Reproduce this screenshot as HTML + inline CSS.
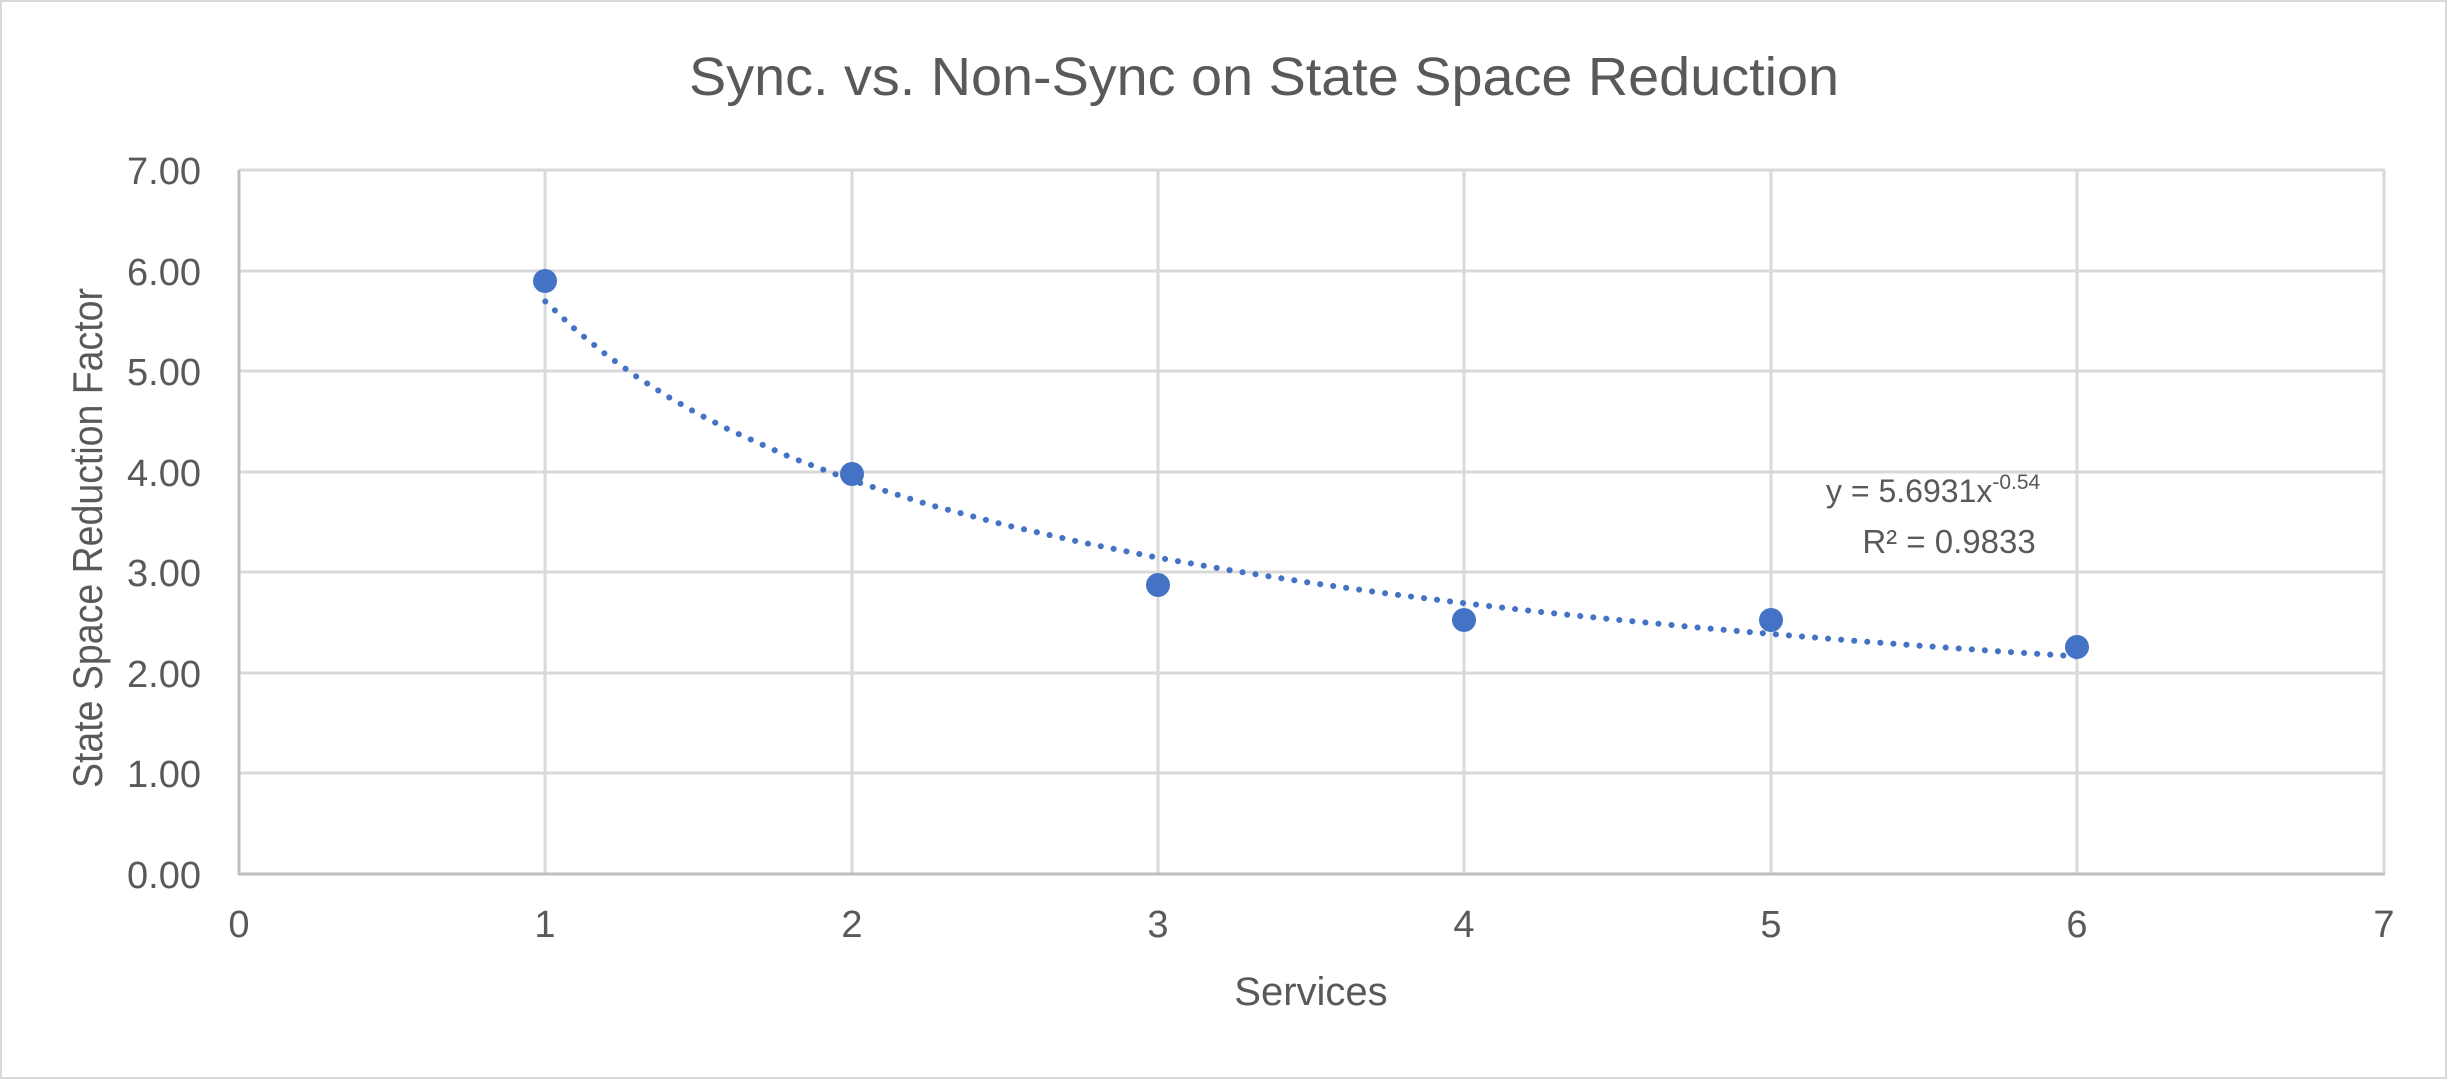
<!DOCTYPE html>
<html><head><meta charset="utf-8"><style>
html,body{margin:0;padding:0;background:#fff}
svg{display:block}
text{font-family:"Liberation Sans",sans-serif;fill:#595959}
</style></head><body>
<svg width="2447" height="1079" viewBox="0 0 2447 1079" xmlns="http://www.w3.org/2000/svg">
<rect x="1" y="1" width="2445" height="1077" fill="#fff" stroke="#d9d9d9" stroke-width="2"/>
<text x="1264" y="95" font-size="54" text-anchor="middle" textLength="1150" lengthAdjust="spacingAndGlyphs">Sync. vs. Non-Sync on State Space Reduction</text>
<g stroke="#d9d9d9" stroke-width="3">
<line x1="239" y1="170" x2="2385" y2="170"/>
<line x1="239" y1="271" x2="2385" y2="271"/>
<line x1="239" y1="371" x2="2385" y2="371"/>
<line x1="239" y1="472" x2="2385" y2="472"/>
<line x1="239" y1="572" x2="2385" y2="572"/>
<line x1="239" y1="673" x2="2385" y2="673"/>
<line x1="239" y1="773" x2="2385" y2="773"/>
<line x1="545" y1="170" x2="545" y2="874"/>
<line x1="852" y1="170" x2="852" y2="874"/>
<line x1="1158" y1="170" x2="1158" y2="874"/>
<line x1="1464" y1="170" x2="1464" y2="874"/>
<line x1="1771" y1="170" x2="1771" y2="874"/>
<line x1="2077" y1="170" x2="2077" y2="874"/>
<line x1="2384" y1="170" x2="2384" y2="874"/>
</g>
<g stroke="#bfbfbf" stroke-width="3">
<line x1="239" y1="170" x2="239" y2="875"/>
<line x1="238" y1="874" x2="2385" y2="874"/>
</g>
<g font-size="38" text-anchor="end">
<text x="201" y="184">7.00</text>
<text x="201" y="285">6.00</text>
<text x="201" y="385">5.00</text>
<text x="201" y="486">4.00</text>
<text x="201" y="586">3.00</text>
<text x="201" y="687">2.00</text>
<text x="201" y="787">1.00</text>
<text x="201" y="888">0.00</text>
</g>
<g font-size="38" text-anchor="middle">
<text x="239" y="937">0</text>
<text x="545" y="937">1</text>
<text x="852" y="937">2</text>
<text x="1158" y="937">3</text>
<text x="1464" y="937">4</text>
<text x="1771" y="937">5</text>
<text x="2077" y="937">6</text>
<text x="2384" y="937">7</text>
</g>
<text x="1311" y="1005" font-size="40" text-anchor="middle">Services</text>
<text transform="translate(102,538) rotate(-90)" font-size="42" text-anchor="middle" textLength="500" lengthAdjust="spacingAndGlyphs">State Space Reduction Factor</text>
<path fill="none" stroke="#4472c4" stroke-width="6" stroke-linecap="round" stroke-dasharray="0.1 13" d="M545.3,301.4 L576,330.2 L606.6,355.1 L637.2,377.1 L667.8,396.6 L698.5,414.1 L729.1,429.8 L790.3,457.2 L851.6,480.3 L928.2,504.5 L1004.8,524.9 L1081.4,542.3 L1157.9,557.7 L1234.5,571 L1311,582.9 L1387.6,593.6 L1464.2,603.2 L1540.8,612 L1617.4,619.8 L1694,627.2 L1770.5,633.9 L1847.1,640.2 L1923.7,646 L2000.3,651.4 L2076.8,656.4"/>
<g fill="#4472c4">
<circle cx="545" cy="281" r="12"/>
<circle cx="852" cy="474" r="12"/>
<circle cx="1158" cy="585" r="12"/>
<circle cx="1464" cy="620" r="12"/>
<circle cx="1771" cy="620" r="12"/>
<circle cx="2077" cy="647" r="12"/>
</g>
<text x="1826" y="502" font-size="32">y = 5.6931x<tspan font-size="21" dy="-13">-0.54</tspan></text>
<text x="1949" y="553" font-size="33" text-anchor="middle">R² = 0.9833</text>
</svg>
</body></html>
